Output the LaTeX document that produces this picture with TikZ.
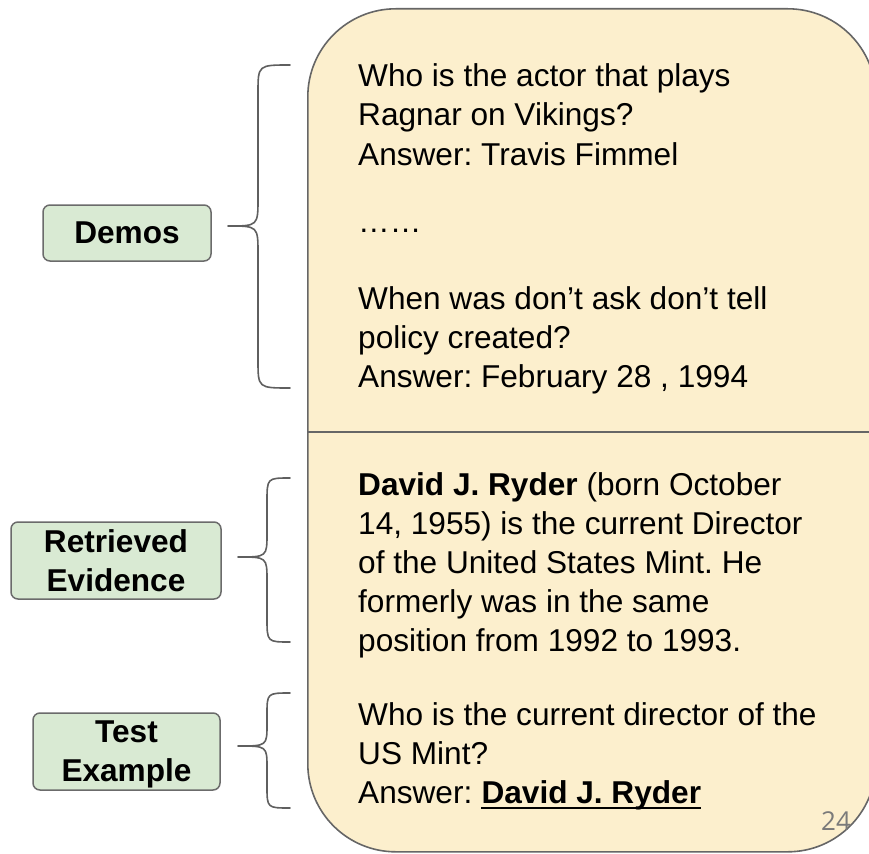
\documentclass[tikz,border=0pt]{standalone}
\usepackage{fontspec}
\setmainfont{Liberation Sans}
\newfontfamily\pagefont{Open Sans}
\frenchspacing
\definecolor{boxfill}{HTML}{FCEFCD}
\definecolor{boxline}{HTML}{666666}
\definecolor{labfill}{HTML}{D9EAD3}
\definecolor{labline}{HTML}{6B6B6B}
\definecolor{bracecol}{HTML}{5F5F5F}
\definecolor{pagecol}{HTML}{7A7A7A}
\begin{document}
\begin{tikzpicture}[x=1pt,y=-1pt,
  txt/.style={anchor=base west, inner sep=0pt, font=\fontsize{31.6}{39}\selectfont},
  lab/.style={draw=labline, fill=labfill, line width=1.5pt, rounded corners=7pt,
    align=center, font=\fontsize{31.6}{39}\selectfont\bfseries, inner sep=0pt},
  brc/.style={draw=bracecol, line width=1.6pt, line cap=round, line join=round},
  panelbox/.style={draw=boxline, fill=boxfill, line width=1.6pt, rounded corners=88pt,
    anchor=north west, inner sep=0pt}]
\useasboundingbox (0,0) rectangle (869,853);
\clip (0,0) rectangle (869,853);
\fill[white] (0,0) rectangle (869,853);

% main panel
\node[panelbox, minimum width=568pt, minimum height=843pt] (panel) at (307,8) {};
\coordinate (dl) at (307,432);
\coordinate (dr) at (875,432);
\draw[draw=boxline, line width=1.6pt] (dl) -- (dr);

% labels
\node[lab, minimum width=168pt, minimum height=56pt] (demos) at (127,233) {Demos};
\node[lab, minimum width=210pt, minimum height=77pt] (retr) at (116,560.5) {Retrieved\\Evidence};
\node[lab, minimum width=187pt, minimum height=77pt, text depth=0pt] (test) at (126.5,751.5) {Test\\Example};

% braces
\draw[brc] (290,65) .. controls (258,65) .. (258,93) -- (258,198)
  .. controls (258,226) .. (228,226) .. controls (258,226) .. (258,254)
  -- (258,360) .. controls (258,388) .. (290,388);
\draw[brc] (290,478) .. controls (267,478) .. (267,502) -- (267,533)
  .. controls (267,557) .. (238,557) .. controls (267,557) .. (267,581)
  -- (267,618) .. controls (267,642) .. (290,642);
\draw[brc] (290,693) .. controls (267,693) .. (267,715) -- (267,724)
  .. controls (267,746) .. (238,746) .. controls (267,746) .. (267,768)
  -- (267,786) .. controls (267,808) .. (290,808);

% demo text
\node[txt] (d1) at (358,87) {Who is the actor that plays};
\node[txt] (d2) at (358,126) {Ragnar on Vikings?};
\node[txt] (d3) at (358,165) {Answer: Travis Fimmel};
\node[txt] (d4) at (358,232) {……};
\node[txt] (d5) at (358,309) {When was don’t ask don’t tell};
\node[txt] (d6) at (358,348) {policy created?};
\node[txt] (d7) at (358,387) {Answer: February 28 , 1994};

% evidence
\node[txt] (e1) at (358,495) {\textbf{David J. Ryder} (born October};
\node[txt] (e2) at (358,534) {14, 1955) is the current Director};
\node[txt] (e3) at (358,573) {of the United States Mint. He};
\node[txt] (e4) at (358,612) {formerly was in the same};
\node[txt] (e5) at (358,651) {position from 1992 to 1993.};

% test example
\node[txt] (t1) at (358,725) {Who is the current director of the};
\node[txt] (t2) at (358,764) {US Mint?};
\node[txt] (t3) at (358,803) {Answer:};
\node[txt, font=\fontsize{31.6}{39}\selectfont\bfseries] (t4) at ([xshift=8.8pt]t3.base east) {David J. Ryder};
\draw[line width=2pt] ([yshift=-5pt]t4.base west) -- ([yshift=-5pt]t4.base east);

% page number
\node[anchor=base west, inner sep=0pt, text=pagecol, font=\pagefont\fontsize{26}{30}\selectfont] (pg) at (821,830) {24};
\end{tikzpicture}
\end{document}
